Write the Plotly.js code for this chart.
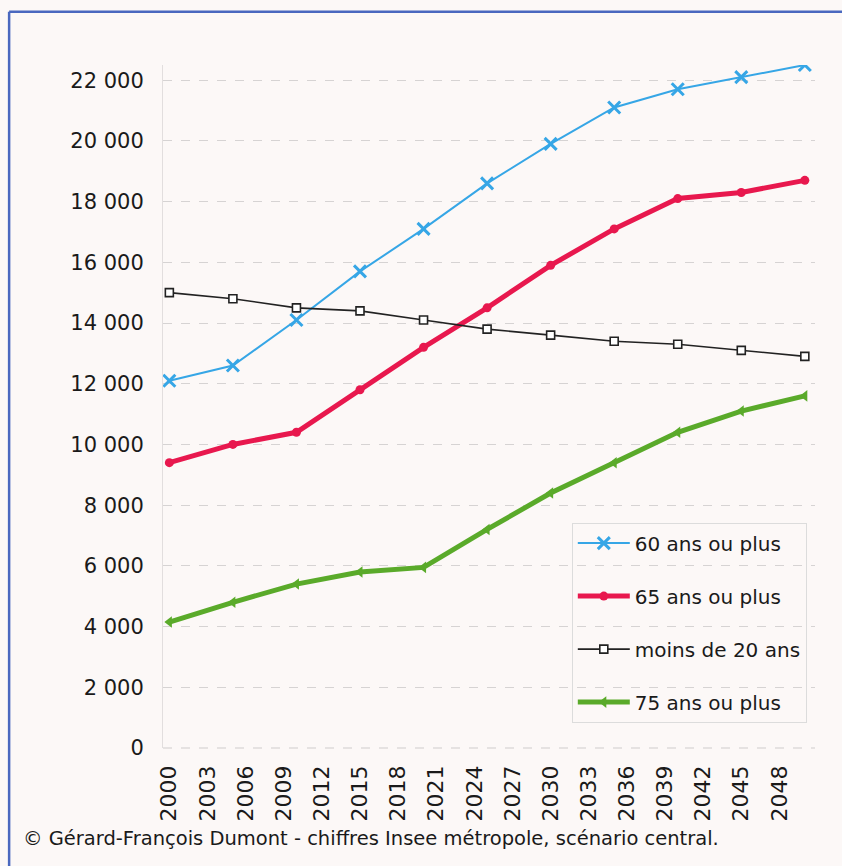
<!DOCTYPE html>
<html>
<head>
<meta charset="utf-8">
<script src="https://cdn.plot.ly/plotly-3.0.1.min.js"></script>
<style>
html,body{margin:0;padding:0;background:#fcf8f7;}
#chart{width:842px;height:866px;}
</style>
</head>
<body>
<div id="chart"></div>
<script>
const years = [2000, 2005, 2010, 2015, 2020, 2025, 2030, 2035, 2040, 2045, 2050];
const tickYears = [2000, 2003, 2006, 2009, 2012, 2015, 2018, 2021, 2024, 2027, 2030, 2033, 2036, 2039, 2042, 2045, 2048];
const tickLabelsY = ["0", "2 000", "4 000", "6 000", "8 000", "10 000", "12 000", "14 000", "16 000", "18 000", "20 000", "22 000"];
const tickValsY = [0, 2000, 4000, 6000, 8000, 10000, 12000, 14000, 16000, 18000, 20000, 22000];
const plus60 = [12100, 12600, 14100, 15700, 17100, 18600, 19900, 21100, 21700, 22100, 22500];
const plus65 = [9400, 10000, 10400, 11800, 13200, 14500, 15900, 17100, 18100, 18300, 18700];
const moins20 = [15000, 14800, 14500, 14400, 14100, 13800, 13600, 13400, 13300, 13100, 12900];
const plus75 = [4150, 4800, 5400, 5800, 5950, 7200, 8400, 9400, 10400, 11100, 11600];
const names = ["60 ans ou plus", "65 ans ou plus", "moins de 20 ans", "75 ans ou plus"];
const caption = "© Gérard-François Dumont - chiffres Insee métropole, scénario central.";

const FONT = "DejaVu Sans, sans-serif";
const traces = [
  {x: years, y: plus60, name: names[0], legendgroup: "a", mode: "lines+markers",
   line: {color: "#36a6e6", width: 2},
   marker: {symbol: "x-thin", size: 12, line: {color: "#36a6e6", width: 3}, color: "#36a6e6"}},
  {x: years, y: plus65, name: names[1], legendgroup: "b", mode: "lines+markers",
   line: {color: "#e8184e", width: 5},
   marker: {symbol: "circle", size: 9, color: "#e8184e"}},
  {x: years, y: moins20, name: names[2], legendgroup: "c", mode: "lines+markers",
   line: {color: "#222222", width: 1.6},
   marker: {symbol: "square", size: 8, color: "#ffffff", line: {color: "#222222", width: 1.6}}},
  {x: years, y: plus75, name: names[3], legendgroup: "d", mode: "lines+markers",
   line: {color: "#5aaa2a", width: 5},
   marker: {symbol: "triangle-left", size: 10, color: "#5aaa2a"}}
];

const layout = {
  width: 842, height: 866,
  paper_bgcolor: "#fcf8f7", plot_bgcolor: "rgba(0,0,0,0)",
  margin: {l: 163, r: 27, t: 65, b: 118},
  font: {family: FONT, size: 20, color: "#1a1a1a"},
  showlegend: true,
  legend: {x: 0.627, y: 0.33, xanchor: "left", yanchor: "top",
    bgcolor: "rgba(0,0,0,0)", bordercolor: "#dcdcdc", borderwidth: 1,
    font: {family: FONT, size: 20, color: "#1a1a1a"},
    tracegroupgap: 24, itemwidth: 52, traceorder: "grouped"},
  xaxis: {range: [1999.5, 2050.8], tickmode: "array", tickvals: tickYears,
    ticktext: tickYears.map(String), tickangle: -90, showgrid: false,
    zeroline: false, showline: false, ticks: "", ticklen: 0, ticklabelstandoff: 12,
    tickfont: {family: FONT, size: 22, color: "#1a1a1a"}},
  yaxis: {range: [0, 22500], tickmode: "array", tickvals: tickValsY, ticktext: tickLabelsY,
    showgrid: true, gridcolor: "#d6d3d3", griddash: "dash", gridwidth: 1,
    zeroline: false, showline: true, linecolor: "#e2dede", linewidth: 1,
    ticks: "", ticklabelstandoff: 14,
    tickfont: {family: FONT, size: 21, color: "#1a1a1a"}},
  shapes: [
    {type: "line", xref: "paper", yref: "paper", x0: 0, x1: 1, y0: 0, y1: 0,
     line: {color: "#cfcccc", width: 1, dash: "dash"}},
    {type: "line", xref: "paper", yref: "paper", x0: -0.236, x1: -0.236, y0: 1.078, y1: -0.18,
     line: {color: "#4a68bf", width: 2.5}},
    {type: "line", xref: "paper", yref: "paper", x0: -0.236, x1: 1.05, y0: 1.078, y1: 1.078,
     line: {color: "#4a68bf", width: 2.5}}
  ],
  annotations: [
    {text: caption, xref: "paper", yref: "paper", x: -0.218, y: -0.132,
     xanchor: "left", yanchor: "middle", showarrow: false,
     font: {family: FONT, size: 19.5, color: "#1a1a1a"}}
  ]
};

Plotly.newPlot("chart", traces, layout, {displayModeBar: false, staticPlot: true});
</script>
</body>
</html>
